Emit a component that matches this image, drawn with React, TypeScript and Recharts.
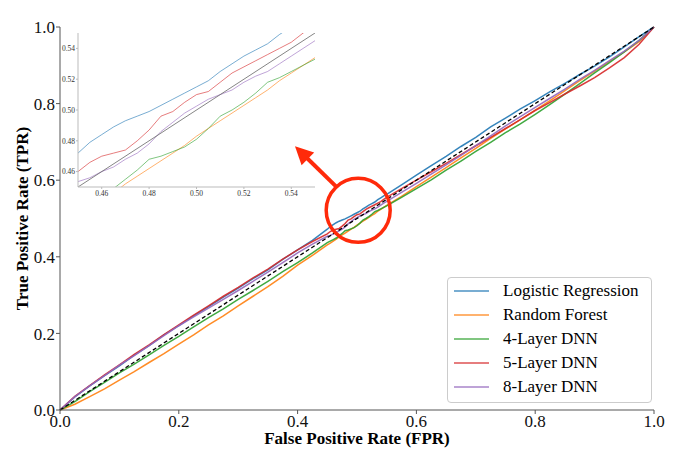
import React from 'react';
import { LineChart, Line, XAxis, YAxis, Label, Legend, ReferenceDot, ReferenceLine } from 'recharts';

// False positive rate grid (shared by all curves)
const fpr = [0, 0.025, 0.05, 0.075, 0.1, 0.125, 0.15, 0.175, 0.2, 0.225, 0.25, 0.275, 0.3, 0.325, 0.35, 0.375, 0.4, 0.425, 0.45,
  0.455, 0.46, 0.465, 0.47, 0.475, 0.48, 0.485, 0.49, 0.495, 0.5, 0.505, 0.51, 0.515, 0.52, 0.525, 0.53, 0.535, 0.54, 0.545, 0.55,
  0.575, 0.6, 0.625, 0.65, 0.675, 0.7, 0.725, 0.75, 0.775, 0.8, 0.825, 0.85, 0.875, 0.9, 0.925, 0.95, 0.975, 1.0];

const tprLR = [0, 0.034, 0.063, 0.090, 0.115, 0.143, 0.168, 0.196, 0.220, 0.246, 0.270, 0.295, 0.318, 0.343, 0.366, 0.393, 0.418, 0.443, 0.472,
  0.479, 0.484, 0.489, 0.493, 0.496, 0.499, 0.503, 0.507, 0.511, 0.515, 0.519, 0.525, 0.530, 0.535, 0.539, 0.543, 0.549, 0.554, 0.559, 0.563,
  0.588, 0.613, 0.638, 0.662, 0.688, 0.712, 0.739, 0.762, 0.786, 0.808, 0.831, 0.853, 0.876, 0.898, 0.922, 0.948, 0.975, 1.0];

const tprRF = [0, 0.015, 0.035, 0.055, 0.078, 0.100, 0.124, 0.147, 0.172, 0.196, 0.222, 0.246, 0.272, 0.297, 0.322, 0.349, 0.378, 0.404, 0.431,
  0.436, 0.441, 0.446, 0.452, 0.457, 0.462, 0.467, 0.472, 0.477, 0.483, 0.488, 0.493, 0.498, 0.503, 0.508, 0.513, 0.519, 0.524, 0.529, 0.534,
  0.558, 0.583, 0.608, 0.633, 0.658, 0.683, 0.709, 0.734, 0.758, 0.783, 0.808, 0.834, 0.860, 0.885, 0.910, 0.935, 0.962, 1.0];

const tprDNN4 = [0, 0.022, 0.048, 0.072, 0.097, 0.120, 0.144, 0.169, 0.192, 0.217, 0.241, 0.264, 0.289, 0.312, 0.336, 0.361, 0.385, 0.410, 0.437,
  0.441, 0.445, 0.449, 0.455, 0.461, 0.468, 0.470, 0.473, 0.476, 0.481, 0.488, 0.496, 0.500, 0.505, 0.511, 0.518, 0.521, 0.525, 0.529, 0.533,
  0.555, 0.578, 0.601, 0.626, 0.650, 0.675, 0.699, 0.724, 0.747, 0.772, 0.798, 0.825, 0.852, 0.880, 0.907, 0.935, 0.965, 1.0];

const tprDNN5 = [0, 0.036, 0.064, 0.092, 0.118, 0.145, 0.170, 0.197, 0.222, 0.248, 0.272, 0.297, 0.320, 0.345, 0.368, 0.394, 0.418, 0.440, 0.460,
  0.466, 0.470, 0.472, 0.474, 0.480, 0.487, 0.496, 0.499, 0.505, 0.510, 0.512, 0.518, 0.524, 0.528, 0.532, 0.536, 0.540, 0.544, 0.550, 0.555,
  0.578, 0.600, 0.622, 0.644, 0.667, 0.690, 0.712, 0.735, 0.758, 0.782, 0.803, 0.825, 0.846, 0.868, 0.893, 0.920, 0.955, 1.0];

const tprDNN8 = [0, 0.035, 0.063, 0.090, 0.117, 0.142, 0.168, 0.194, 0.220, 0.243, 0.266, 0.289, 0.312, 0.336, 0.360, 0.385, 0.410, 0.433, 0.4535,
  0.456, 0.460, 0.463, 0.468, 0.472, 0.478, 0.486, 0.492, 0.498, 0.5025, 0.507, 0.510, 0.513, 0.518, 0.522, 0.525, 0.530, 0.535, 0.540, 0.545,
  0.568, 0.592, 0.616, 0.640, 0.665, 0.690, 0.716, 0.742, 0.766, 0.790, 0.814, 0.838, 0.863, 0.887, 0.912, 0.937, 0.965, 1.0];

const chanceLine = [0, 1];

const seriesNames = ['Logistic Regression', 'Random Forest', '4-Layer DNN', '5-Layer DNN', '8-Layer DNN'];
const seriesKeys = ['lr', 'rf', 'dnn4', 'dnn5', 'dnn8'];
const seriesColors = ['#1f77b4', '#ff7f0e', '#2ca02c', '#d62728', '#9467bd'];
const seriesValues = [tprLR, tprRF, tprDNN4, tprDNN5, tprDNN8];

const mainTicks = [0, 0.2, 0.4, 0.6, 0.8, 1.0];
const insetTicks = [0.46, 0.48, 0.5, 0.52, 0.54];

// Annotation positions in data units
const circleCenter = { x: 0.502, y: 0.5215 };
const arrowFrom = { x: 0.4646, y: 0.584 };
const arrowTo = { x: 0.3956, y: 0.6884 };

const data = fpr.map((x, i) => {
  const row: any = { fpr: x };
  seriesKeys.forEach((k, j) => { row[k] = seriesValues[j][i]; });
  row.chance = i === 0 ? chanceLine[0] : i === fpr.length - 1 ? chanceLine[1] : undefined;
  return row;
});

const FONT = "'Liberation Serif', 'Times New Roman', serif";
const RED = '#ff2a0a';
const SPINE = '#555';

const Arrow = (p: any) => {
  const { x1, y1, x2, y2 } = p;
  if ([x1, y1, x2, y2].some((v) => typeof v !== 'number' || isNaN(v))) return null;
  const dx = x2 - x1, dy = y2 - y1;
  const L = Math.hypot(dx, dy);
  const ux = dx / L, uy = dy / L;
  const hl = 18, hw = 9;
  const bx = x2 - ux * hl, by = y2 - uy * hl;
  const px = -uy, py = ux;
  return (
    <g>
      <line x1={x1} y1={y1} x2={bx + ux * 2} y2={by + uy * 2} stroke={RED} strokeWidth={4} />
      <polygon points={`${x2},${y2} ${bx + px * hw},${by + py * hw} ${bx - px * hw},${by - py * hw}`} fill={RED} />
    </g>
  );
};

const LegendBox = (props: any) => {
  const payload = (props.payload || [])
    .filter((e: any) => e.value && seriesNames.includes(e.value))
    .sort((a: any, b: any) => seriesNames.indexOf(a.value) - seriesNames.indexOf(b.value));
  return (
    <div style={{
      border: '1px solid #ccc', borderRadius: 4, background: 'rgba(255,255,255,0.85)',
      padding: '1px 6px 3px 6px', boxSizing: 'border-box', width: 205, fontFamily: FONT,
    }}>
      {payload.map((e: any) => (
        <div key={e.value} style={{ display: 'flex', alignItems: 'center', height: 24 }}>
          <svg width={35} height={4} style={{ marginRight: 14, flex: 'none' }}>
            <line x1={0} y1={2} x2={35} y2={2} stroke={e.color} strokeWidth={1.5} strokeOpacity={0.8} />
          </svg>
          <span style={{ fontSize: 17, color: '#000', whiteSpace: 'nowrap', lineHeight: '24px', fontFamily: FONT }}>{e.value}</span>
        </div>
      ))}
    </div>
  );
};

const makeXTick = (size: number, fill: string, digits: number) => (p: any) => (
  <text x={p.x} y={p.y} dy="0.75em" textAnchor="middle" fontSize={size} fill={fill}
    style={{ fontFamily: FONT }}>{Number(p.payload.value).toFixed(digits)}</text>
);
const makeYTick = (size: number, fill: string, digits: number) => (p: any) => (
  <text x={p.x} y={p.y} dy="0.36em" textAnchor="end" fontSize={size} fill={fill}
    style={{ fontFamily: FONT }}>{Number(p.payload.value).toFixed(digits)}</text>
);

const MainXTick = makeXTick(17, '#111', 1);
const MainYTick = makeYTick(17, '#111', 1);
const InsetXTick = makeXTick(7.5, '#333', 2);
const InsetYTick = makeYTick(7.5, '#333', 2);

export default function App() {
  return (
    <div style={{ position: 'absolute', left: 0, top: 0, width: 678, height: 451, background: '#fff', fontFamily: FONT }}>
      <LineChart width={678} height={451} data={data} margin={{ top: 27, right: 24, bottom: 0, left: 0 }}>
        <XAxis xAxisId={0} type="number" dataKey="fpr" domain={[0, 1]} ticks={mainTicks}
          height={41} tick={MainXTick}
          axisLine={{ stroke: SPINE }} tickLine={{ stroke: SPINE }} tickSize={4} tickMargin={0}>
          <Label value="False Positive Rate (FPR)" position="insideBottom" offset={7}
            style={{ fontSize: 17, fontWeight: 'bold', fill: '#000', fontFamily: FONT }} />
        </XAxis>
        <XAxis xAxisId="top" orientation="top" type="number" dataKey="fpr" domain={[0, 1]} height={0}
          tick={false} tickLine={false} axisLine={{ stroke: SPINE }}>
          <Label value="Receiver Operating Characteristic (ROC)" position="top" offset={6}
            style={{ fontSize: 17, fontWeight: 'bold', fill: '#000', fontFamily: FONT }} />
        </XAxis>
        <YAxis yAxisId={0} type="number" domain={[0, 1]} ticks={mainTicks}
          width={60} tick={MainYTick}
          axisLine={{ stroke: SPINE }} tickLine={{ stroke: SPINE }} tickSize={4} tickMargin={1}>
          <Label value="True Positive Rate (TPR)" angle={-90} position="insideLeft" offset={22}
            style={{ fontSize: 17, fontWeight: 'bold', fill: '#000', fontFamily: FONT, textAnchor: 'middle' }} />
        </YAxis>
        <YAxis yAxisId="right" orientation="right" type="number" domain={[0, 1]} width={0}
          tick={false} tickLine={false} axisLine={{ stroke: SPINE }} />
        {seriesKeys.map((k, j) => (
          <Line key={k} dataKey={k} name={seriesNames[j]} stroke={seriesColors[j]} strokeWidth={1.5}
            strokeOpacity={0.9} dot={false} type="linear" isAnimationActive={false} />
        ))}
        <Line dataKey="chance" stroke="#000" strokeWidth={1.3} strokeDasharray="4 2.5" dot={false}
          connectNulls legendType="none" type="linear" isAnimationActive={false} />
        <ReferenceDot x={circleCenter.x} y={circleCenter.y} r={32} fill="none" stroke={RED} strokeWidth={3.5} />
        <ReferenceLine segment={[arrowFrom, arrowTo]} stroke={RED} shape={Arrow} />
        <Legend layout="vertical" align="center" verticalAlign="middle" content={<LegendBox />}
          wrapperStyle={{ left: 447, top: 277, bottom: 'auto', right: 'auto', width: 205 }} />
      </LineChart>

      <div style={{ position: 'absolute', left: 60, top: 33 }}>
        <LineChart width={258} height={167} data={data} margin={{ top: 0, right: 3, bottom: 0, left: 0 }}>
          <XAxis type="number" dataKey="fpr" domain={[0.45, 0.55]} ticks={insetTicks} allowDataOverflow
            height={13} tick={InsetXTick}
            axisLine={{ stroke: '#bbb' }} tickLine={{ stroke: '#bbb' }} tickSize={2} tickMargin={1} />
          <XAxis xAxisId="top" orientation="top" type="number" dataKey="fpr" domain={[0.45, 0.55]} allowDataOverflow
            height={0} tick={false} tickLine={false} axisLine={{ stroke: '#bbb' }} />
          <YAxis type="number" domain={[0.45, 0.55]} ticks={insetTicks} allowDataOverflow
            width={18} tick={InsetYTick}
            axisLine={{ stroke: '#bbb' }} tickLine={{ stroke: '#bbb' }} tickSize={2} tickMargin={1} />
          <YAxis yAxisId="right" orientation="right" type="number" domain={[0.45, 0.55]} allowDataOverflow width={0}
            tick={false} tickLine={false} axisLine={{ stroke: '#bbb' }} />
          {seriesKeys.map((k, j) => (
            <Line key={k} dataKey={k} name={seriesNames[j]} stroke={seriesColors[j]} strokeWidth={1}
              strokeOpacity={0.6} dot={false} type="linear" isAnimationActive={false} />
          ))}
          <Line dataKey="chance" stroke="#666" strokeWidth={0.8} dot={false} connectNulls
            type="linear" isAnimationActive={false} />
        </LineChart>
      </div>
    </div>
  );
}
